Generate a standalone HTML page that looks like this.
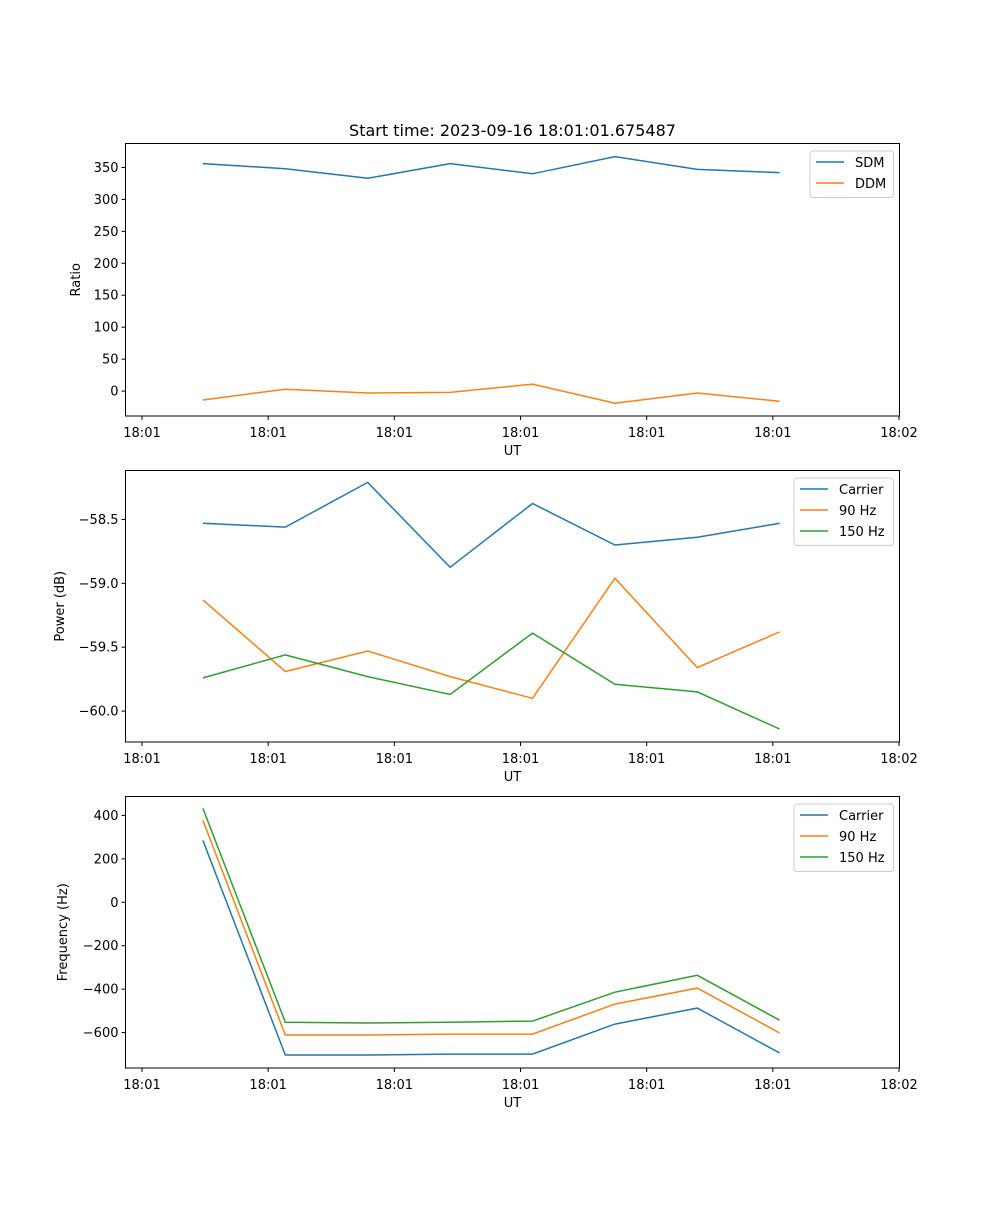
<!DOCTYPE html>
<html><head><meta charset="utf-8"><style>
body{margin:0;background:#fff}
svg text{font-family:"DejaVu Sans","Liberation Sans",sans-serif;font-size:13px;fill:#000}
</style></head><body>
<svg id="fig" width="1000" height="1200" xmlns="http://www.w3.org/2000/svg"></svg>
<script>
const times = [4.83, 11.36, 17.89, 24.42, 30.95, 37.48, 44.01, 50.54];
const xTickVals = [0, 10, 20, 30, 40, 50, 60];
const xTickLabels = ["18:01","18:01","18:01","18:01","18:01","18:01","18:02"];
const sdm = [356, 348, 333, 356, 340, 367, 347, 342];
const ddm = [-14, 3, -3, -2, 11, -19, -3, -16];
const pCarrier = [-58.53, -58.56, -58.21, -58.875, -58.375, -58.70, -58.64, -58.53];
const p90 = [-59.13, -59.69, -59.53, -59.73, -59.90, -58.96, -59.66, -59.38];
const p150 = [-59.74, -59.56, -59.73, -59.87, -59.39, -59.79, -59.85, -60.14];
const fCarrier = [285, -703, -703, -699, -699, -561, -487, -694];
const f90 = [377, -611, -611, -607, -607, -469, -395, -602];
const f150 = [432, -552, -556, -552, -547, -414, -336, -543];
const yTicks1 = [0, 50, 100, 150, 200, 250, 300, 350];
const yTicks2 = [-58.5, -59.0, -59.5, -60.0];
const yTicks3 = [400, 200, 0, -200, -400, -600];

const NS="http://www.w3.org/2000/svg";
const svg=document.getElementById('fig');
function mk(tag,attrs,parent){const e=document.createElementNS(NS,tag);for(const k in attrs)e.setAttribute(k,attrs[k]);(parent||svg).appendChild(e);return e;}
const L=125.5,R=899.5;
const xScale=t=>142+(t-0)*(R-0.5-142)/60;
const C={blue:'#1f77b4',orange:'#ff7f0e',green:'#2ca02c'};

function panel(name,top,bot,ymin,ymax,yticks,fmt,ylabel,series,legend){
  const g=mk('g',{});
  
  
  const ys=v=>bot-(v-ymin)/(ymax-ymin)*(bot-top);
  series.forEach(s=>{
    const d=s.vals.map((v,i)=>(i?'L':'M')+xScale(times[i]).toFixed(1)+','+ys(v).toFixed(1)).join('');
    const p=mk('path',{d:d,fill:'none',stroke:s.color,'stroke-width':1.5},g);
    
    
  });
  const fr=mk('rect',{x:L,y:top,width:R-L,height:bot-top,fill:'none',stroke:'#000','stroke-width':1},g);
  
  
  xTickVals.forEach((t,i)=>{
    const x=xScale(t);
    mk('line',{x1:x,x2:x,y1:bot,y2:bot+4,stroke:'#000'},g);
    const tx=mk('text',{x:x,y:bot+21,'text-anchor':'middle'},g);
    tx.textContent=xTickLabels[i];
    
    
  });
  yticks.forEach(v=>{
    const y=ys(v);
    mk('line',{x1:L-4,x2:L,y1:y,y2:y,stroke:'#000'},g);
    const tx=mk('text',{x:L-7,y:y+4.5,'text-anchor':'end'},g);
    tx.textContent=fmt(v);
    
    
  });
  const xl=mk('text',{x:(L+R)/2,y:bot+39,'text-anchor':'middle'},g);
  xl.textContent='UT';
  
  
  const yl=mk('text',{x:0,y:0,'text-anchor':'middle',transform:`translate(${legend.ylx},${(top+bot)/2}) rotate(-90)`},g);
  yl.textContent=ylabel;
  
  
  const lg=mk('g',{},g);
  
  
  mk('rect',{x:legend.x,y:top+7.5,width:R-6-legend.x,height:series.length*21+4.5,rx:3,fill:'#fff','fill-opacity':0.8,stroke:'#ccc'},lg);
  series.forEach((s,i)=>{
    const y=top+18.5+i*21;
    mk('line',{x1:legend.x+6,x2:legend.x+34,y1:y,y2:y,stroke:s.color,'stroke-width':1.5},lg);
    const t=mk('text',{x:legend.x+45,y:y+5},lg);
    t.textContent=s.label;
    
    
  });
}
const tt=mk('text',{x:(L+R)/2,y:136,'text-anchor':'middle'});
tt.setAttribute('style','font-size:16px');
tt.textContent='Start time: 2023-09-16 18:01:01.675487';



panel('ratio-panel',143.5,416,-39,387.5,yTicks1,v=>String(v),'Ratio',
 [{key:'sdm',vals:sdm,color:C.blue,label:'SDM'},{key:'ddm',vals:ddm,color:C.orange,label:'DDM'}],{x:810,ylx:80});
panel('power-panel',470.5,742,-60.242,-58.117,yTicks2,v=>'\u2212'+Math.abs(v).toFixed(1),'Power (dB)',
 [{key:'carrier',vals:pCarrier,color:C.blue,label:'Carrier'},{key:'90hz',vals:p90,color:C.orange,label:'90 Hz'},{key:'150hz',vals:p150,color:C.green,label:'150 Hz'}],{x:794,ylx:64});
panel('frequency-panel',796.5,1068,-763,487,yTicks3,v=>v<0?'\u2212'+Math.abs(v):String(v),'Frequency (Hz)',
 [{key:'carrier',vals:fCarrier,color:C.blue,label:'Carrier'},{key:'90hz',vals:f90,color:C.orange,label:'90 Hz'},{key:'150hz',vals:f150,color:C.green,label:'150 Hz'}],{x:794,ylx:67});
</script>
</body></html>
